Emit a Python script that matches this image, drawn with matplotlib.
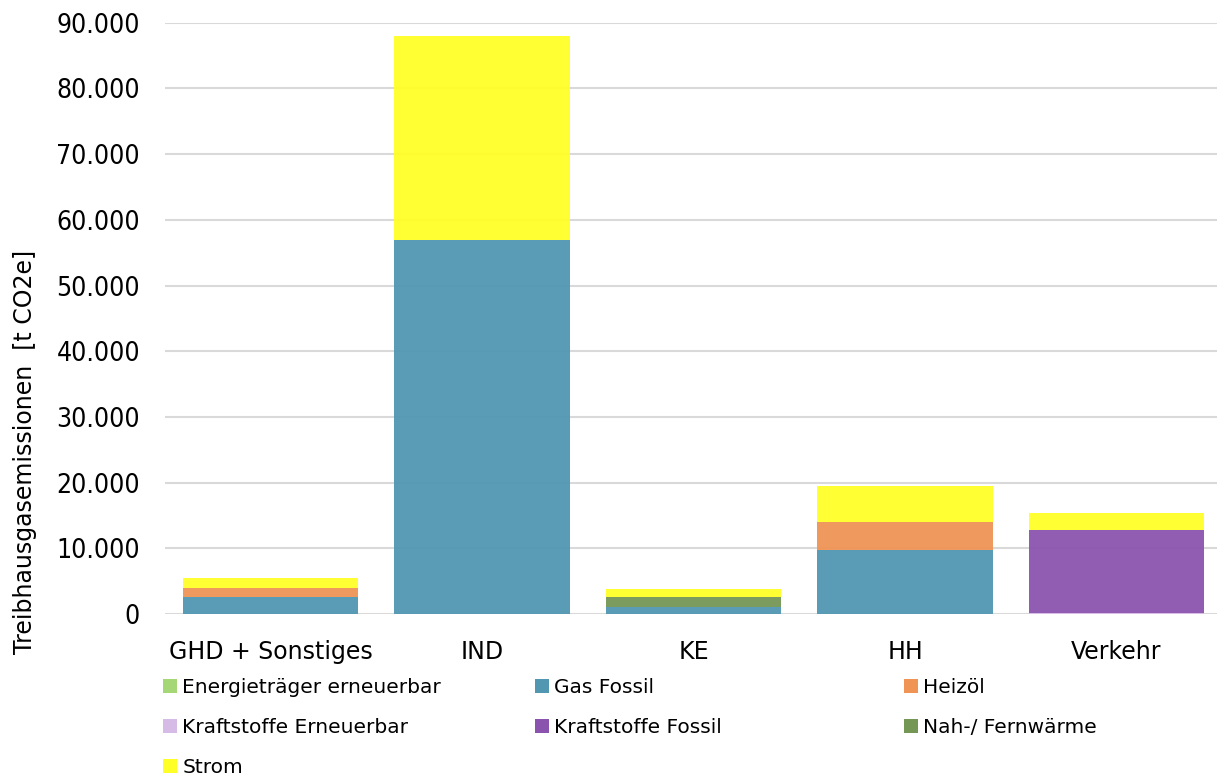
import numpy as np
import matplotlib
matplotlib.use("Agg")
import matplotlib.pyplot as plt
from matplotlib.patches import Patch
from matplotlib.ticker import FuncFormatter

# Data (t CO2e)
categories = ["GHD + Sonstiges", "IND", "KE", "HH", "Verkehr"]
energietraeger_ee = [0, 0, 0, 0, 0]
gas_fossil = [2540, 56970, 1020, 9740, 0]
heizoel = [1480, 0, 0, 4320, 0]
kraftstoffe_ee = [0, 0, 0, 0, 80]
kraftstoffe_fossil = [0, 0, 0, 0, 12710]
nah_fernwaerme = [0, 0, 1520, 0, 0]
strom = [1460, 31010, 1220, 5380, 2640]

series_names = ["Energieträger erneuerbar", "Gas Fossil", "Heizöl",
                "Kraftstoffe Erneuerbar", "Kraftstoffe Fossil",
                "Nah-/ Fernwärme", "Strom"]
series_values = [energietraeger_ee, gas_fossil, heizoel, kraftstoffe_ee,
                 kraftstoffe_fossil, nah_fernwaerme, strom]
colors = ["#A6D776", "#5197B2", "#F09456", "#D6BBE7", "#8A54AE",
          "#759756", "#FFFF28"]

plt.rcParams["font.family"] = "DejaVu Sans"

fig = plt.figure(figsize=(12.17, 7.83), dpi=100)
ax = fig.add_axes([165 / 1217, 1 - 614 / 783, 1 - 165 / 1217, (614 - 22.7) / 783])

x = np.arange(len(categories))
bottom = np.zeros(len(categories))
for name, vals, col in zip(series_names, series_values, colors):
    vals = np.array(vals, dtype=float)
    ax.bar(x, vals, width=0.83, bottom=bottom, color=col, edgecolor="none",
           alpha=0.95, label=name, zorder=2)
    bottom += vals

ax.set_ylim(0, 90000)
ax.set_xlim(-0.5, 4.475)
ax.set_yticks(np.arange(0, 90001, 10000))
ax.yaxis.set_major_formatter(FuncFormatter(lambda v, p: f"{int(v):,}".replace(",", ".")))
for lbl in ax.get_yticklabels():
    lbl.set_fontstretch("condensed")
ax.set_xticks(x)
ax.set_xticklabels(categories, fontsize=17)
ax.tick_params(axis="y", labelsize=19, length=0, pad=18)
ax.tick_params(axis="x", length=0, pad=18.5)
ax.grid(axis="y", color="#D9D9D9", linewidth=1.5, zorder=0)
ax.set_axisbelow(True)
for s in ax.spines.values():
    s.set_visible(False)

fig.text(25 / 1217, 1 - 452 / 783, "Treibhausgasemissionen  [t CO2e]",
         rotation=90, ha="center", va="center", fontsize=17)

# legend: three columns, row-major like the original
handles = [Patch(facecolor=c, edgecolor="none") for c in colors]
col_x = [163, 535, 904]
for j in range(3):
    idx = list(range(j, len(series_names), 3))
    fig.legend([handles[i] for i in idx], [series_names[i] for i in idx],
               loc="upper left", bbox_to_anchor=(col_x[j] / 1217, 1 - 678 / 783),
               frameon=False, fontsize=14.5, handlelength=0.7, handleheight=0.7,
               handletextpad=0.25, labelspacing=1.05, borderpad=0, borderaxespad=0)

fig.savefig("out.png", dpi=100)
